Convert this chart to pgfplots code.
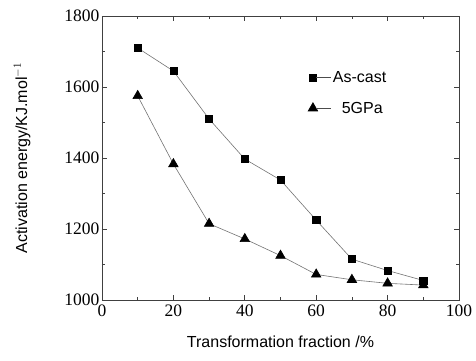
\documentclass[border=0pt]{standalone}
\usepackage{fontspec}
\setmainfont{Liberation Serif}
\newfontfamily\labelfont{Liberation Sans}
\usepackage{pgfplots}
\pgfplotsset{compat=1.18}
\begin{document}
\begin{tikzpicture}
\begin{axis}[
  scale only axis,
  width=357pt, height=284pt,
  xmin=0, xmax=100, ymin=1000, ymax=1800,
  xtick={0,20,...,100}, ytick={1000,1200,...,1800},
  minor xtick={10,30,...,90}, minor ytick={1100,1300,...,1700},
  tick align=inside,
  major tick length=5pt, minor tick length=3pt,
  axis line style={line width=0.9pt, black!75},
  every tick/.style={line width=0.8pt, black!75},
  /pgf/number format/assume math mode=true,
  /pgf/number format/set thousands separator={},
  ticklabel style={font=\fontsize{17.5}{20}\selectfont},
  xticklabel style={yshift=-1pt},
  yticklabel style={xshift=1pt},
  xlabel={Transformation fraction /\%},
  ylabel={Activation energy/KJ.mol$^{-1}$},
  xlabel style={font=\labelfont\fontsize{16}{18}\selectfont, at={(axis description cs:0.5,-0.148)}, anchor=center},
  ylabel style={font=\labelfont\fontsize{16}{18}\selectfont, at={(axis description cs:-0.224,0.5)}, anchor=center},
  legend style={draw=none, fill=none, at={(axis description cs:0.577,0.729)}, anchor=west,
    font=\labelfont\fontsize{16}{18}\selectfont, row sep=14pt,
    legend cell align=left, inner sep=0pt, nodes={inner sep=2pt}},
  legend image code/.code={
    \draw[mark repeat=2,mark phase=1,#1] plot coordinates {(0cm,0cm)};
    \draw[black!70, line width=0.7pt, mark=none] (0.12cm,0cm) -- (0.62cm,0cm);
  },
]
\addplot[black!55, line width=0.6pt, mark=square*, mark size=3.6pt,
  mark options={black, fill=black, solid}]
  coordinates {(10,1710) (20,1645) (30,1510) (40,1397) (50,1338) (60,1225) (70,1115) (80,1083) (90,1055)};
\addlegendentry{As-cast}
\addplot[black!55, line width=0.6pt, mark=triangle*, mark size=5.5pt,
  mark options={black, fill=black, solid}]
  coordinates {(10,1575) (20,1383) (30,1215) (40,1172) (50,1125) (60,1072) (70,1057) (80,1047) (90,1042)};
\addlegendentry{\ \ 5GPa}
\end{axis}
\path (current axis.south west) ++(-102pt,-60pt) rectangle ++(476pt,360pt);
\end{tikzpicture}
\end{document}
